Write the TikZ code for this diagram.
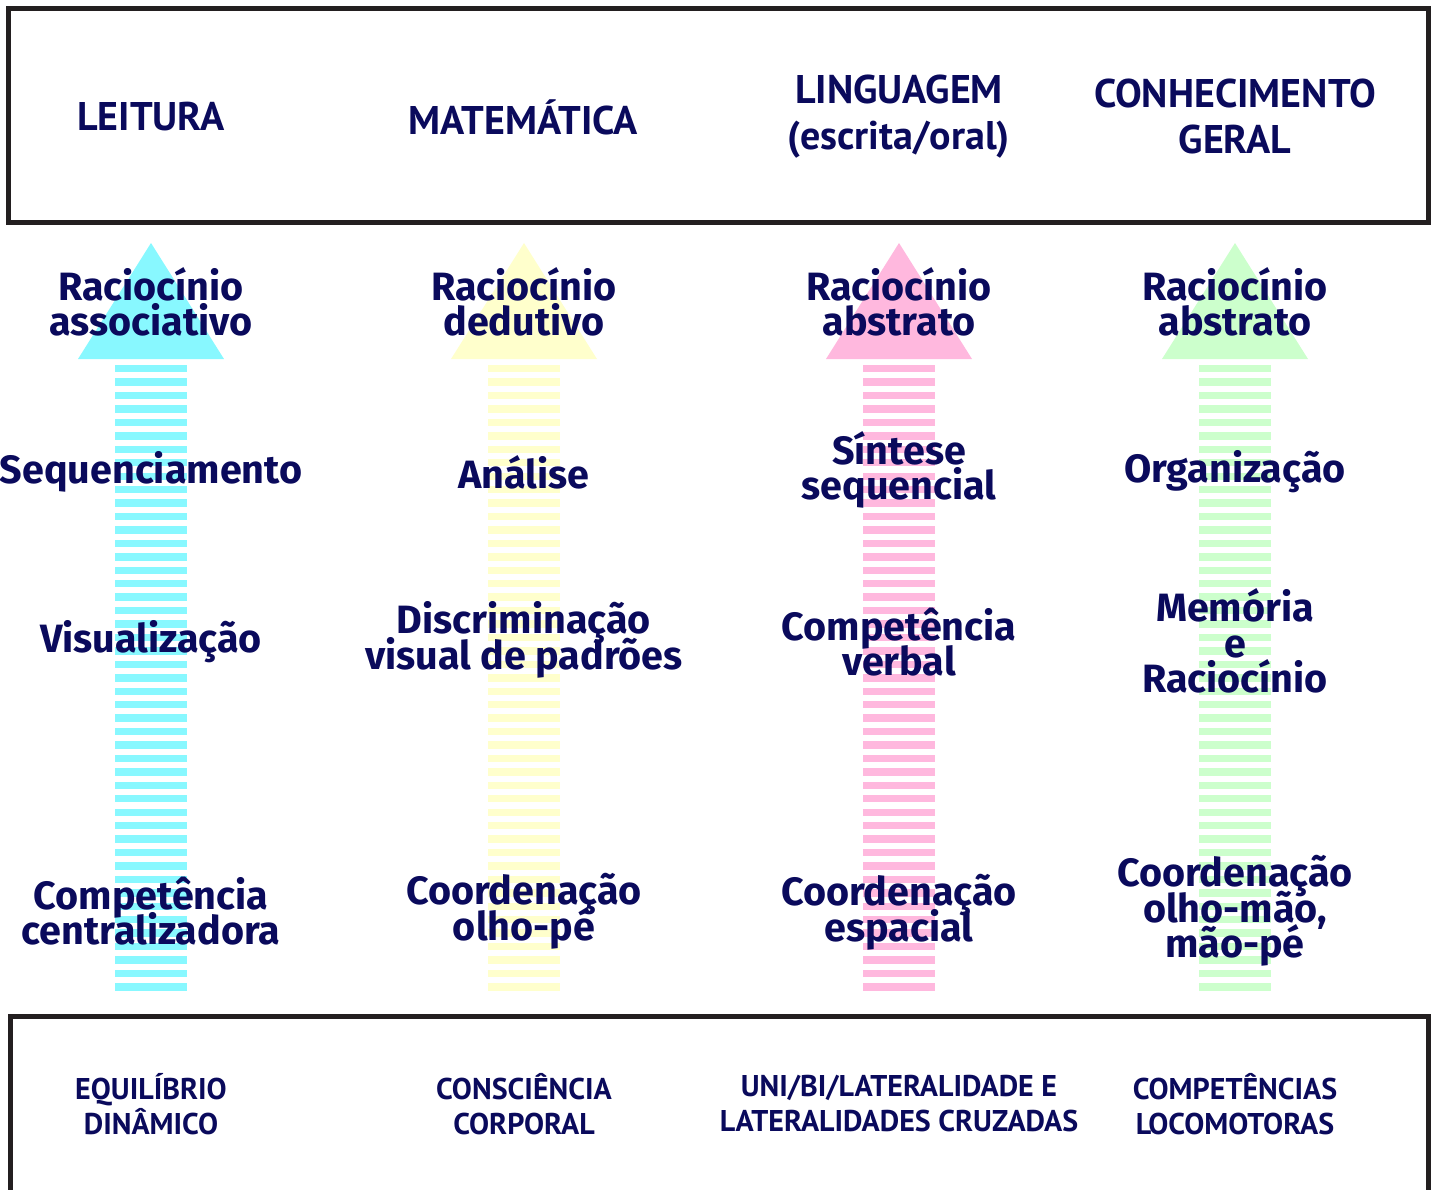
\documentclass[tikz,border=0pt]{standalone}
\usepackage{fontspec}
\newfontfamily\bodyfont{Fira Sans}
\newfontfamily\headfont{PT Sans}
\definecolor{navy}{HTML}{0A0A5C}
\definecolor{framecol}{HTML}{231F20}
\definecolor{ccyan}{HTML}{88F8FF}
\definecolor{cyellow}{HTML}{FFFFCC}
\definecolor{cpink}{HTML}{FFB8DE}
\definecolor{cgreen}{HTML}{CCFFCC}
\newcommand\tightlines{\lineskiplimit=-100pt\relax\lineskip=0pt\relax}
\tikzset{
  lbl/.style={text=navy, font=\bodyfont\bfseries\fontsize{39.5}{35.5}\selectfont, align=center, inner sep=0pt, execute at begin node=\tightlines},
  hd/.style={text=navy, font=\headfont\bfseries\fontsize{40}{46}\selectfont, align=center, inner sep=0pt, execute at begin node=\tightlines},
  ft/.style={text=navy, font=\headfont\bfseries\fontsize{30}{35}\selectfont, align=center, inner sep=0pt, execute at begin node=\tightlines},
  framebox/.style={draw=framecol, line width=5pt},
}
\newcommand\colarrow[2]{%
  \fill[#2] (#1,243) -- (#1+73,359) -- (#1-73,359) -- cycle;
  \foreach \k in {0,...,46} {\fill[#2] (#1-36,365+13.44*\k) rectangle (#1+36,372.4+13.44*\k);}
}
\begin{document}
\begin{tikzpicture}[x=1pt,y=-1pt]
\useasboundingbox (0,0) rectangle (1438,1189);
\draw[framebox] (8.5,8.5) rectangle (1428,222.5);
\draw[framebox] (10.5,1200) -- (10.5,1016.5) -- (1428,1016.5) -- (1428,1200);
\colarrow{151}{ccyan}
\colarrow{524}{cyellow}
\colarrow{899}{cpink}
\colarrow{1235}{cgreen}
% header
\node[hd] (h1) at (151,117) {LEITURA};
\node[hd] (h2) at (523,117) {MATEMÁTICA};
\node[hd] (h3) at (899,117) {LINGUAGEM\\(escrita/oral)};
\node[hd] (h4) at (1235,116) {CONHECIMENTO\\GERAL};
% column 1
\node[lbl] (a1) at (151,302) {Raciocínio\\associativo};
\node[lbl] (a2) at (151,472) {Sequenciamento};
\node[lbl] (a3) at (151,642) {Visualização};
\node[lbl] (a4) at (151,911) {Competência\\centralizadora};
% column 2
\node[lbl] (b1) at (524,302) {Raciocínio\\dedutivo};
\node[lbl] (b2) at (524,472) {Análise};
\node[lbl] (b3) at (524,640) {Discriminação\\visual de padrões};
\node[lbl] (b4) at (524,911) {Coordenação\\olho-pé};
% column 3
\node[lbl] (c1) at (899,302) {Raciocínio\\abstrato};
\node[lbl] (c2) at (899,470) {Síntese\\sequencial};
\node[lbl] (c3) at (899,642) {Competência\\verbal};
\node[lbl] (c4) at (899,912) {Coordenação\\espacial};
% column 4
\node[lbl] (d1) at (1235,302) {Raciocínio\\abstrato};
\node[lbl] (d2) at (1235,472) {Organização};
\node[lbl] (d3) at (1235,641) {Memória\\e\\Raciocínio};
\node[lbl] (d4) at (1235,911) {Coordenação\\olho-mão,\\mão-pé};
% footer
\node[ft] (f1) at (151,1104) {EQUILÍBRIO\\DINÂMICO};
\node[ft] (f2) at (524,1104) {CONSCIÊNCIA\\CORPORAL};
\node[ft] (f3) at (899,1104) {UNI/BI/LATERALIDADE E\\LATERALIDADES CRUZADAS};
\node[ft] (f4) at (1235,1104) {COMPETÊNCIAS\\LOCOMOTORAS};
\end{tikzpicture}
\end{document}
